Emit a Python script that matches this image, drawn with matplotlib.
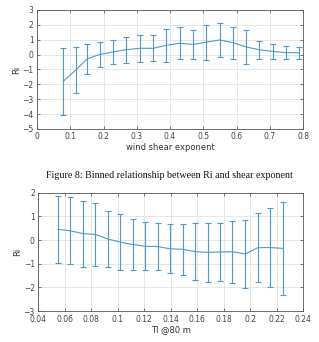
import numpy as np
import matplotlib
matplotlib.use('Agg')
import matplotlib.pyplot as plt

# top panel: Ri vs wind shear exponent
shear_x = [0.079, 0.116, 0.151, 0.189, 0.229, 0.269, 0.309, 0.349, 0.389, 0.429,
           0.469, 0.509, 0.549, 0.589, 0.629, 0.669, 0.709, 0.749, 0.787]
shear_ri = [-1.80, -1.05, -0.29, 0.01, 0.18, 0.33, 0.42, 0.42, 0.62, 0.76,
            0.68, 0.83, 0.98, 0.80, 0.51, 0.32, 0.21, 0.13, 0.12]
shear_err = [2.25, 1.56, 1.03, 0.84, 0.82, 0.87, 0.92, 0.88, 1.10, 1.09,
             1.00, 1.18, 1.12, 1.08, 1.12, 0.60, 0.53, 0.43, 0.42]

# bottom panel: Ri vs TI @80 m
ti_x = [0.0548, 0.0642, 0.0737, 0.0830, 0.0926, 0.1016, 0.1112, 0.1208, 0.1300, 0.1396,
        0.1490, 0.1585, 0.1678, 0.1771, 0.1864, 0.1962, 0.2055, 0.2148, 0.2249]
ti_ri = [0.45, 0.39, 0.27, 0.235, 0.04, -0.085, -0.19, -0.265, -0.275, -0.37,
         -0.39, -0.49, -0.52, -0.505, -0.495, -0.585, -0.325, -0.315, -0.355]
ti_err = [1.42, 1.41, 1.39, 1.315, 1.17, 1.165, 1.09, 1.015, 0.975, 1.03,
          1.07, 1.19, 1.25, 1.235, 1.315, 1.445, 1.455, 1.665, 1.975]

caption = 'Figure 8: Binned relationship between Ri and shear exponent'

line_col = '#4f98cb'
tick_col = '#444444'

fig = plt.figure(figsize=(3.19, 3.42), dpi=100)
ax1 = fig.add_axes([0.116, 0.623, 0.834, 0.348])
ax2 = fig.add_axes([0.120, 0.090, 0.831, 0.347])


def style(ax):
    ax.grid(True, color='#e2e2e2', linewidth=0.6)
    ax.set_axisbelow(True)
    ax.tick_params(direction='in', length=2, width=0.5, labelsize=5.5,
                   colors=tick_col, pad=2.5, top=True, right=True)
    for s in ax.spines.values():
        s.set_color('#555555')
        s.set_linewidth(0.6)


ax1.errorbar(shear_x, shear_ri, yerr=shear_err, color=line_col, ecolor=line_col,
             lw=0.8, elinewidth=0.8, capsize=2.2, capthick=0.8)
ax1.set_xlim(0, 0.8)
ax1.set_ylim(-5, 3)
ax1.set_xticks(np.arange(0, 0.81, 0.1))
ax1.set_xticklabels(['0', '0.1', '0.2', '0.3', '0.4', '0.5', '0.6', '0.7', '0.8'])
ax1.set_yticks(range(-5, 4))
ax1.set_xlabel('wind shear exponent', fontsize=6, color='#333333', labelpad=1)
ax1.set_ylabel('Ri', fontsize=6, color='#333333', labelpad=1)
style(ax1)

ax2.errorbar(ti_x, ti_ri, yerr=ti_err, color=line_col, ecolor=line_col,
             lw=0.8, elinewidth=0.8, capsize=2.2, capthick=0.8)
ax2.set_xlim(0.04, 0.24)
ax2.set_ylim(-3, 2)
ax2.set_xticks(np.arange(0.04, 0.241, 0.02))
ax2.set_xticklabels(['0.04', '0.06', '0.08', '0.1', '0.12', '0.14', '0.16',
                     '0.18', '0.2', '0.22', '0.24'])
ax2.set_yticks(range(-3, 3))
ax2.set_xlabel('TI @80 m', fontsize=6, color='#333333', labelpad=1)
ax2.set_ylabel('Ri', fontsize=6, color='#333333', labelpad=1)
style(ax2)

fig.text(0.53, 0.488, caption, ha='center', va='center', fontsize=7.2,
         family='Liberation Serif', color='#111111')

fig.savefig('out.png', dpi=100)
